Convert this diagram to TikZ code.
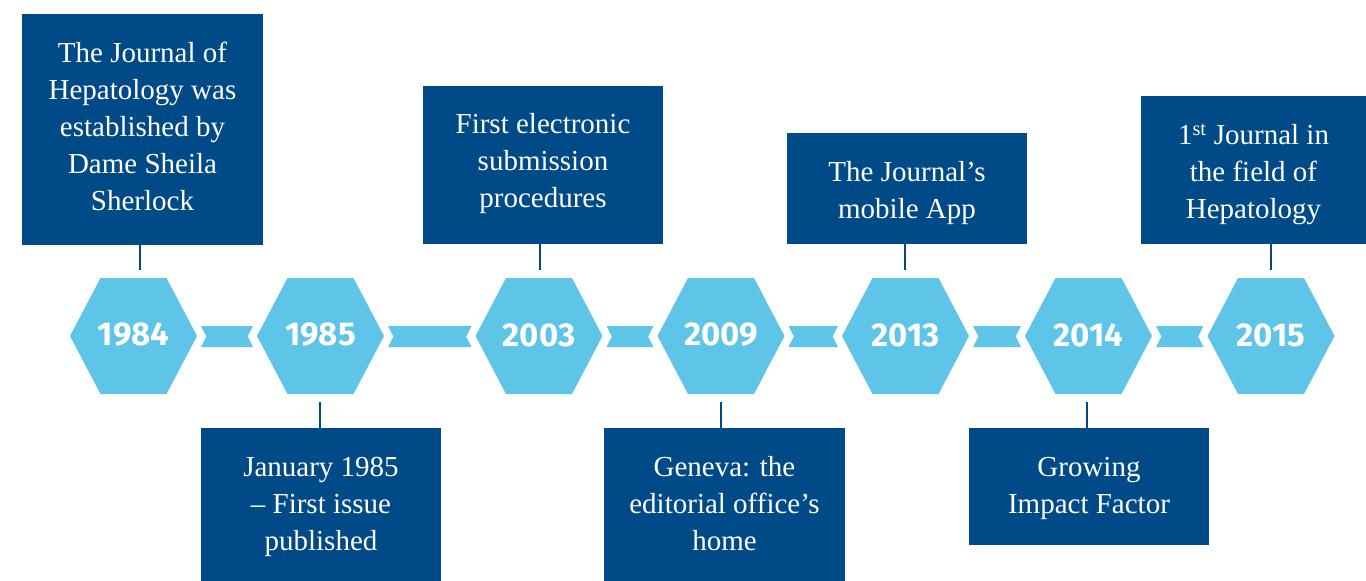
\documentclass[tikz,border=0pt]{standalone}
\usepackage{fontspec}
\setmainfont{Liberation Serif}
\newfontfamily\yearfont{Fira Sans}
\definecolor{darkblue}{RGB}{0,74,135}
\definecolor{lightblue}{RGB}{94,197,232}
\tikzset{
  infobox/.style={fill=darkblue, inner sep=0pt},
  boxtext/.style={text=white, inner sep=0pt, align=center,
    font=\fontsize{29}{37}\selectfont},
  yearlbl/.style={text=white, inner sep=0pt, font=\yearfont\bfseries\fontsize{33}{33}\selectfont},
  hexfill/.style={fill=lightblue},
  ribbon/.style={fill=lightblue},
  conn/.style={draw=darkblue, line width=2.5pt},
}
\newcommand\hexat[3]{%
  \fill[hexfill] ({#1-63.5},336) -- ({#1-33},278) -- ({#1+33},278) -- ({#1+63.5},336) -- ({#1+33},394) -- ({#1-33},394) -- cycle;
  \node[yearlbl] (#2) at (#1,335) {#3};
}
\newcommand\ribbonbetween[2]{%
  \fill[ribbon] ({#1+67.5},326) -- ({#2-67.5},326) -- ({#2-72.9},336.5) -- ({#2-67.5},347) -- ({#1+67.5},347) -- ({#1+72.9},336.5) -- cycle;
}
\begin{document}
\begin{tikzpicture}[x=1pt,y=-1pt]
\useasboundingbox (0,0) rectangle (1366,581);
% hexagons
\hexat{133.5}{y1}{1984}
\hexat{320.5}{y2}{1985}
\hexat{539}{y3}{2003}
\hexat{721}{y4}{2009}
\hexat{905.5}{y5}{2013}
\hexat{1088.5}{y6}{2014}
\hexat{1271}{y7}{2015}
% ribbons
\ribbonbetween{133.5}{320.5}
\ribbonbetween{320.5}{539}
\ribbonbetween{539}{721}
\ribbonbetween{721}{905.5}
\ribbonbetween{905.5}{1088.5}
\ribbonbetween{1088.5}{1271}
% boxes
\node[infobox, minimum width=241, minimum height=231] (b1) at (142.5,129.5) {};
\node[infobox, minimum width=240, minimum height=153] (b2) at (321,504.5) {};
\node[infobox, minimum width=240, minimum height=158] (b3) at (543,165) {};
\node[infobox, minimum width=241, minimum height=153] (b4) at (724.5,504.5) {};
\node[infobox, minimum width=240, minimum height=111] (b5) at (907,188.5) {};
\node[infobox, minimum width=240, minimum height=117] (b6) at (1089,486.5) {};
\node[infobox, minimum width=225, minimum height=148] (b7) at (1253.5,170) {};
% box texts
\node[boxtext] (t1) at (142.5,126.5)
  {The Journal of\\Hepatology was\\established by\\Dame Sheila\\Sherlock};
\node[boxtext] (t2) at (321,506.5)
  {January 1985\\– First issue\\published};
\node[boxtext] (t3) at (543,164)
  {First electronic\\submission\\procedures};
\node[boxtext] (t4) at (724.5,503.5)
  {Geneva: the\\editorial office’s\\home};
\node[boxtext] (t5) at (907,193.5)
  {The Journal’s\\mobile App};
\node[boxtext] (t6) at (1089,488.5)
  {Growing\\Impact Factor};
\node[boxtext] (t7) at (1253.5,174)
  {1\textsuperscript{st} Journal in\\the field of\\Hepatology};
% connector end points
\coordinate (c1) at (140,270);
\coordinate (c2) at (320,402);
\coordinate (c3) at (540,270);
\coordinate (c4) at (721,402);
\coordinate (c5) at (905,270);
\coordinate (c6) at (1087,402);
\coordinate (c7) at (1271,270);
\draw[conn] (b1.south -| c1) -- (c1);
\draw[conn] (b2.north -| c2) -- (c2);
\draw[conn] (b3.south -| c3) -- (c3);
\draw[conn] (b4.north -| c4) -- (c4);
\draw[conn] (b5.south -| c5) -- (c5);
\draw[conn] (b6.north -| c6) -- (c6);
\draw[conn] (b7.south -| c7) -- (c7);
\end{tikzpicture}
\end{document}
